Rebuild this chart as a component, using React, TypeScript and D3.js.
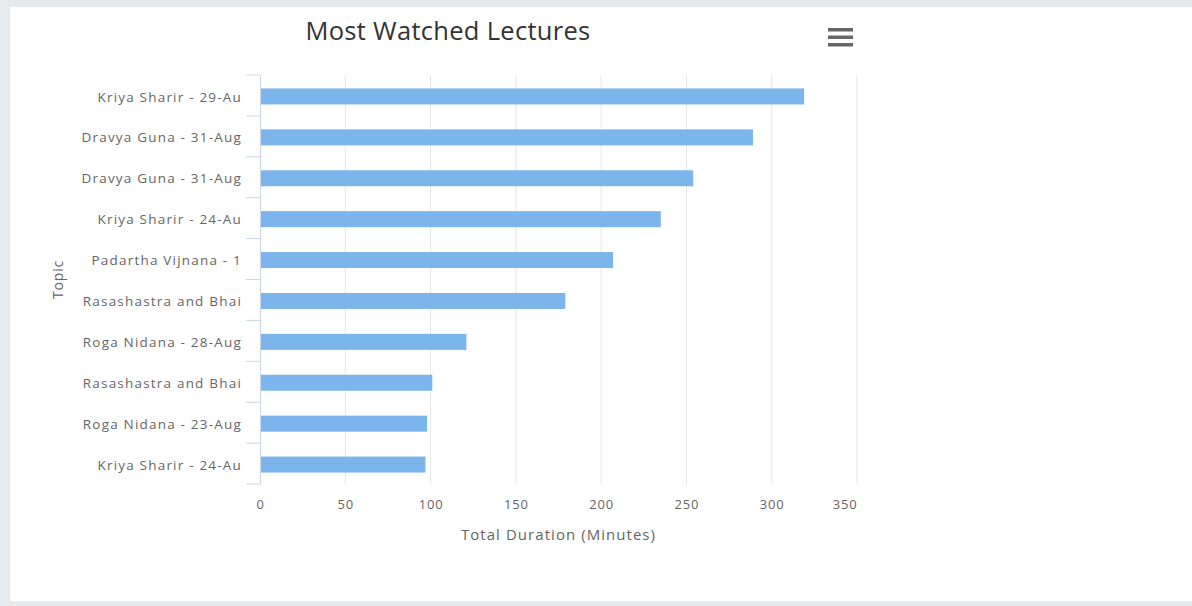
import * as d3 from "d3";
import { useEffect, useRef } from "react";

const topics = [
  "Kriya Sharir - 29-Au",
  "Dravya Guna - 31-Aug",
  "Dravya Guna - 31-Aug ",
  "Kriya Sharir - 24-Au",
  "Padartha Vijnana - 1",
  "Rasashastra and Bhai",
  "Roga Nidana - 28-Aug",
  "Rasashastra and Bhai ",
  "Roga Nidana - 23-Aug",
  "Kriya Sharir - 24-Au ",
];
const minutes = [319, 289, 254, 235, 207, 179, 121, 101, 98, 97];
const xTicks = [0, 50, 100, 150, 200, 250, 300, 350];

const App = () => {
  const svgRef = useRef<SVGSVGElement>(null);

  useEffect(() => {
    if (!svgRef.current) return;
    const svg = d3.select(svgRef.current);
    svg.selectAll("*").remove();

    const width = 1192;
    const height = 606;
    const marginLeft = 260;
    const marginTop = 75;
    const plotRight = 857;
    const plotBottom = 484;
    const font = "'Open Sans', sans-serif";

    // page + card
    svg.append("rect").attr("width", width).attr("height", height).attr("fill", "#e6eaed");
    svg
      .append("rect")
      .attr("x", 10)
      .attr("y", 7)
      .attr("width", width - 10)
      .attr("height", 594)
      .attr("fill", "#ffffff");

    const x = d3.scaleLinear().domain([0, 350]).range([marginLeft, plotRight]);
    const y = d3
      .scaleBand()
      .domain(topics)
      .range([marginTop, plotBottom]);
    const barH = 16;

    // grid
    svg
      .append("g")
      .selectAll()
      .data(xTicks.slice(1))
      .join("line")
      .attr("x1", (d) => x(d))
      .attr("x2", (d) => x(d))
      .attr("y1", marginTop)
      .attr("y2", plotBottom)
      .attr("stroke", "#e6e6e6")
      .attr("stroke-width", 1);

    // bars
    svg
      .append("g")
      .selectAll()
      .data(topics)
      .join("rect")
      .attr("x", x(0))
      .attr("y", (d) => y(d)! + y.bandwidth() / 2 - barH / 2 + 1)
      .attr("width", (d, i) => x(minutes[i]) - x(0))
      .attr("height", barH)
      .attr("fill", "#7cb5ec");

    // y axis
    const yAxis = svg
      .append("g")
      .attr("transform", `translate(${marginLeft},0)`)
      .call(
        d3
          .axisLeft(y)
          .tickSize(0)
          .tickPadding(18)
          .tickFormat((d) => d.trim())
      );
    yAxis.select(".domain").attr("stroke", "#ccd6eb");
    yAxis
      .selectAll("text")
      .attr("font-family", font)
      .attr("font-size", 13.5)
      .attr("letter-spacing", 1.2)
      .attr("fill", "#666666")
      .attr("dy", "0.45em");

    // category ticks between bands
    svg
      .append("g")
      .selectAll()
      .data(topics.concat(["end"]))
      .join("line")
      .attr("x1", marginLeft - 14)
      .attr("x2", marginLeft)
      .attr("y1", (d, i) => marginTop + i * y.step())
      .attr("y2", (d, i) => marginTop + i * y.step())
      .attr("stroke", "#ccd6eb");

    // x axis labels
    const xAxis = svg
      .append("g")
      .attr("transform", `translate(0,${plotBottom})`)
      .call(d3.axisBottom(x).tickValues(xTicks).tickSize(0).tickPadding(16));
    xAxis.select(".domain").remove();
    xAxis
      .selectAll("text")
      .attr("font-family", font)
      .attr("font-size", 13)
      .attr("letter-spacing", 0.8)
      .attr("fill", "#666666")
      .attr("text-anchor", (d) => (d === 350 ? "end" : "middle"));

    // axis titles
    svg
      .append("text")
      .attr("x", (marginLeft + plotRight) / 2)
      .attr("y", 540)
      .attr("text-anchor", "middle")
      .attr("font-family", font)
      .attr("font-size", 15)
      .attr("letter-spacing", 1.05)
      .attr("fill", "#666666")
      .text("Total Duration (Minutes)");

    svg
      .append("text")
      .attr("transform", `translate(63,${(marginTop + plotBottom) / 2}) rotate(-90)`)
      .attr("text-anchor", "middle")
      .attr("font-family", font)
      .attr("font-size", 14)
      .attr("letter-spacing", 0.8)
      .attr("fill", "#666666")
      .text("Topic");

    // title
    svg
      .append("text")
      .attr("x", 448)
      .attr("y", 40)
      .attr("text-anchor", "middle")
      .attr("font-family", font)
      .attr("font-size", 25.5)
      .attr("letter-spacing", 0.3)
      .attr("fill", "#333333")
      .text("Most Watched Lectures");

    // menu button
    svg
      .append("g")
      .selectAll()
      .data([0, 1, 2])
      .join("rect")
      .attr("x", 828)
      .attr("y", (d) => 28 + d * 7.5)
      .attr("width", 25)
      .attr("height", 3.5)
      .attr("fill", "#666666");
  }, []);

  return (
    <div style={{ position: "absolute", left: 0, top: 0 }}>
      <svg ref={svgRef} width={1192} height={606} style={{ display: "block" }}></svg>
    </div>
  );
};

export default App;
